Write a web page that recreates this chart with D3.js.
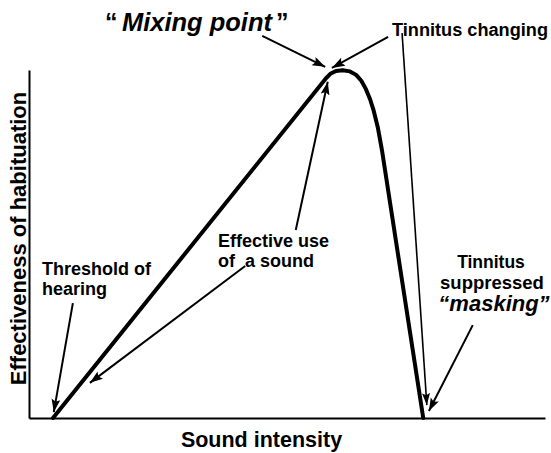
<!DOCTYPE html>
<html>
<head>
<meta charset="utf-8">
<script src="https://cdn.jsdelivr.net/npm/d3@7"></script>
<style>
  html, body { margin: 0; padding: 0; background: #fff; }
  svg { display: block; }
  text { font-family: "Liberation Sans", Arial, Helvetica, sans-serif; font-weight: bold; fill: #000; white-space: pre; }
</style>
</head>
<body>
<div id="chart"></div>
<script>
// ---- data (conceptual units: sound intensity 0–100, effectiveness 0–100) ----
const intensity     = [4.65, 57.6, 58.4, 59.5, 60.8, 62.2, 63.4, 64.4, 65.3, 66.1, 66.8, 67.6, 68.4, 76.4];
const effectiveness = [0,    97.7, 98.9, 99.7, 99.9, 99.6, 98.6, 96.9, 94.5, 91.6, 88.3, 83.5, 77.0, 0];

// annotation arrows: from (x0,y0) to arrow tip (x1,y1), in data units
const arrowFromX = [45.2, 69.6, 51.7, 41.9, 8.5, 72.3, 86.0];
const arrowFromY = [109.8, 109.5, 54.0, 43.7, 33.0, 110.6, 26.7];
const arrowToX   = [57.4, 58.7, 57.9, 11.8, 4.8, 77.1, 77.5];
const arrowToY   = [100.9, 100.6, 96.6, 10.1, 1.7, 3.7, 2.0];
const arrowThin  = [false, false, false, false, false, true, false];

const xTitle = "Sound intensity";
const yTitle = "Effectiveness of habituation";

// ---- chart ----
const W = 551, H = 453;
const svg = d3.select("#chart").append("svg").attr("width", W).attr("height", H);

const x = d3.scaleLinear().domain([0, 100]).range([29, 545]);
const y = d3.scaleLinear().domain([0, 100]).range([418, 70]);

const defs = svg.append("defs");
defs.append("marker")
  .attr("id", "ah").attr("markerUnits", "userSpaceOnUse")
  .attr("markerWidth", 16).attr("markerHeight", 12)
  .attr("refX", 13).attr("refY", 4.5).attr("orient", "auto")
  .append("path").attr("d", "M0,0 L13,4.5 L0,9 L2.5,4.5 Z").attr("fill", "#000");
defs.append("marker")
  .attr("id", "ahs").attr("markerUnits", "userSpaceOnUse")
  .attr("markerWidth", 16).attr("markerHeight", 12)
  .attr("refX", 12).attr("refY", 4).attr("orient", "auto")
  .append("path").attr("d", "M0,0 L12,4 L0,8 L2,4 Z").attr("fill", "#000");

// axes (no ticks)
svg.append("g").attr("transform", `translate(0,${y(0)})`)
  .call(d3.axisBottom(x).tickValues([]).tickSizeOuter(0));
svg.append("g").attr("transform", `translate(${x(0)},0)`)
  .call(d3.axisLeft(y).tickValues([]).tickSizeOuter(0));
svg.selectAll(".domain").attr("stroke", "#000").attr("stroke-width", 2);

// main curve
const pts = intensity.map((v, i) => [v, effectiveness[i]]);
svg.append("path")
  .datum(pts)
  .attr("d", d3.line().x(d => x(d[0])).y(d => y(d[1])).curve(d3.curveLinear))
  .attr("fill", "none").attr("stroke", "#000")
  .attr("stroke-width", 4).attr("stroke-linejoin", "round").attr("stroke-linecap", "round");

// arrows
svg.append("g").selectAll("line")
  .data(arrowFromX.map((v, i) => i))
  .join("line")
  .attr("x1", i => x(arrowFromX[i])).attr("y1", i => y(arrowFromY[i]))
  .attr("x2", i => x(arrowToX[i])).attr("y2", i => y(arrowToY[i]))
  .attr("stroke", "#000")
  .attr("stroke-width", i => arrowThin[i] ? 1.6 : 2)
  .attr("marker-end", i => arrowThin[i] ? "url(#ahs)" : "url(#ah)");

// axis titles
svg.append("text")
  .attr("transform", `translate(26,238.5) rotate(-90)`)
  .attr("text-anchor", "middle").attr("font-size", 22)
  .text(yTitle);
svg.append("text")
  .attr("x", 261.5).attr("y", 447)
  .attr("text-anchor", "middle").attr("font-size", 21.5)
  .text(xTitle);

// annotation labels
const mix = svg.append("text").attr("x", 105).attr("y", 31).attr("font-size", 25);
mix.append("tspan").text("“");
mix.append("tspan").attr("x", 122).attr("font-style", "italic")
  .attr("textLength", 150).attr("lengthAdjust", "spacingAndGlyphs").text("Mixing point");
mix.append("tspan").attr("x", 276).text("”");

svg.append("text").attr("x", 392).attr("y", 36).attr("font-size", 18)
  .attr("textLength", 156).attr("lengthAdjust", "spacingAndGlyphs")
  .text("Tinnitus changing");

svg.append("text").attr("x", 42).attr("y", 275).attr("font-size", 18).text("Threshold of");
svg.append("text").attr("x", 42).attr("y", 295).attr("font-size", 18).text("hearing");

svg.append("text").attr("x", 218).attr("y", 247).attr("font-size", 18).text("Effective use");
svg.append("text").attr("x", 218).attr("y", 267).attr("font-size", 18).text("of  a sound");

svg.append("text").attr("x", 491).attr("y", 268).attr("text-anchor", "middle").attr("font-size", 17.5).text("Tinnitus");
svg.append("text").attr("x", 492).attr("y", 289).attr("text-anchor", "middle").attr("font-size", 18.5).text("suppressed");
svg.append("text").attr("x", 494).attr("y", 311).attr("text-anchor", "middle").attr("font-size", 22)
  .attr("font-style", "italic").text("“masking”");
</script>
</body>
</html>
